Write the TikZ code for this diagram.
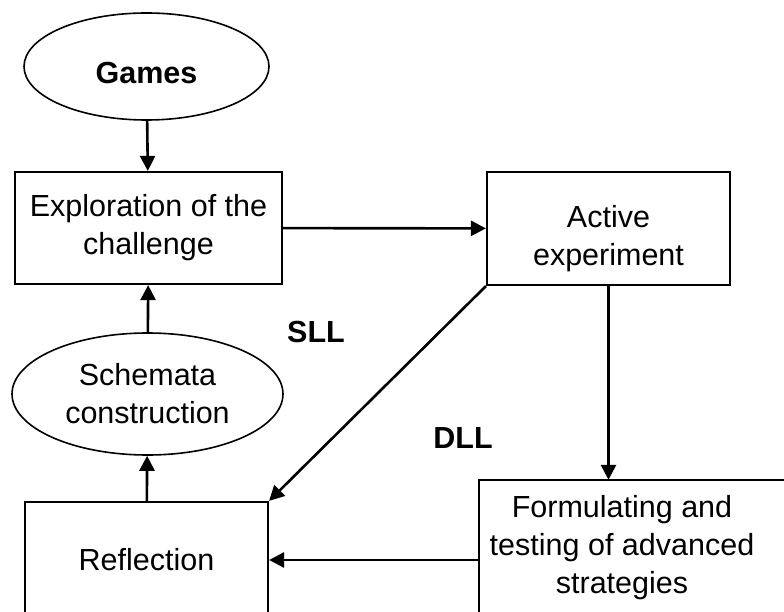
\documentclass[tikz,border=0pt]{standalone}
\usepackage{fontspec}
\setmainfont{Liberation Sans}
\usepackage{tikz}
\usetikzlibrary{shapes.geometric,arrows.meta,positioning}

\newcommand{\diagfont}{\fontsize{30.5}{38}\selectfont}

\begin{document}
\begin{tikzpicture}[
  x=1pt, y=-1pt,
  every node/.style = {font=\diagfont},
  block/.style = {rectangle, draw=black, line width=2.2pt, align=center,
    inner sep=0pt},
  oval/.style = {ellipse, draw=black, line width=1.6pt, align=center,
    inner sep=0pt},
  arr/.style = {-{Triangle[length=15pt,width=15pt]}, line width=2.6pt},
  lbl/.style = {font=\diagfont\bfseries, inner sep=0pt}
]
\useasboundingbox (0,0) rectangle (784,612);
\clip (0,0) rectangle (784,612);

\node[oval, minimum width=245, minimum height=107, text height=35pt,
      font=\diagfont\bfseries]                       (games)   at (146.5,66.5) {Games};
\node[block, minimum width=267, minimum height=112]  (explore) at (148.5,228) {Exploration of the\\challenge};
\node[block, minimum width=243, minimum height=113,
      text height=80pt]                              (active)  at (608.5,228.5) {Active\\experiment};
\node[oval,  minimum width=271, minimum height=122]  (schema)  at (147.5,394) {Schemata\\construction};
\node[block, minimum width=243, minimum height=116]  (reflect) at (146.5,560) {Reflection};
\node[align=center, inner sep=0pt, minimum width=286,
      minimum height=136]                            (formulate) at (622,548)
  {Formulating and\\testing of advanced\\strategies};
\draw[line width=2.2pt] (formulate.south west) -- (formulate.north west) -- ++(320,0);

\node[lbl] (sll) at (316,332) {SLL};
\node[lbl] (dll) at (463,438) {DLL};

\draw[arr] (games) -- (explore);
\draw[arr] (explore) -- (active);
\draw[arr] (active.south) -- (active.south |- formulate.north);
\draw[arr] (formulate.west |- reflect.east) -- (reflect.east);
\draw[arr] (active.south west) -- (reflect.north east);
\draw[arr] (reflect) -- (schema);
\draw[arr] (schema) -- (explore);
\end{tikzpicture}
\end{document}
